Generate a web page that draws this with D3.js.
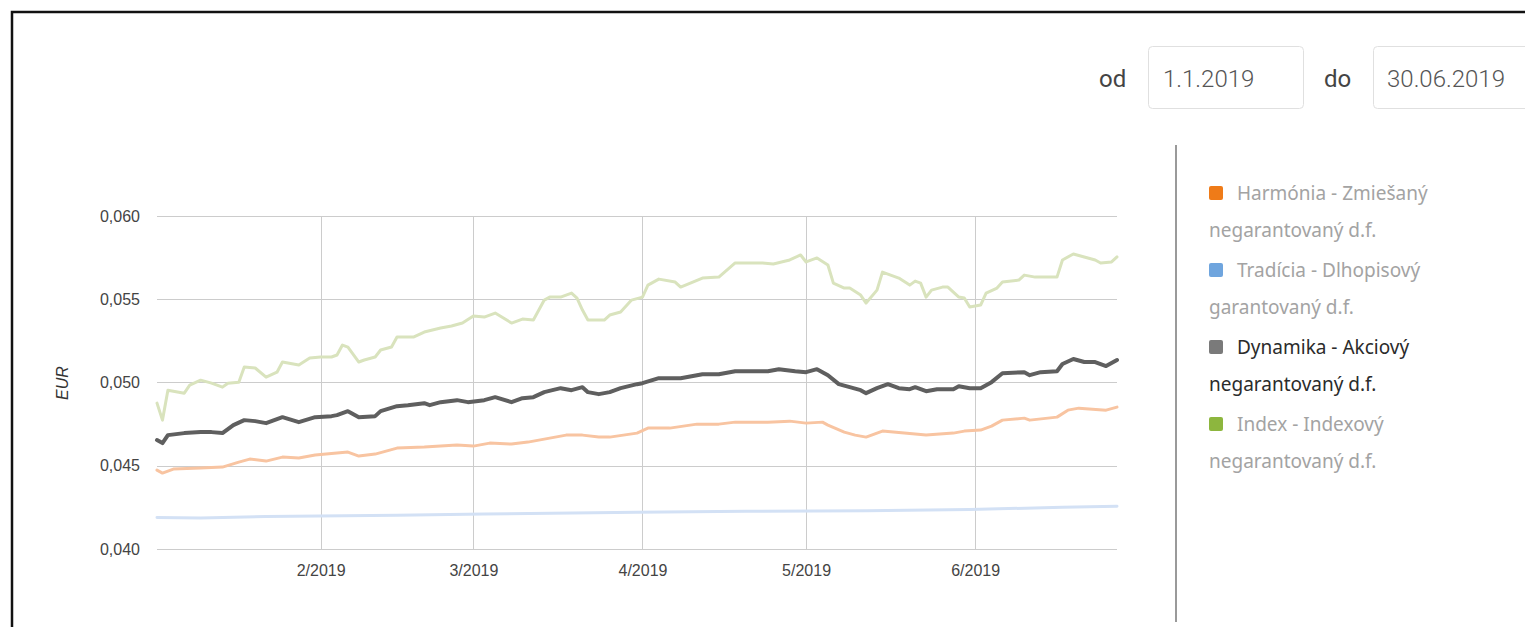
<!DOCTYPE html>
<html>
<head>
<meta charset="utf-8">
<script src="https://cdn.jsdelivr.net/npm/d3@7"></script>
<style>
  html, body { margin: 0; padding: 0; background: #fff; }
  svg { display: block; }
</style>
</head>
<body>
<svg width="1525" height="627"></svg>
<script>
// hodnoty podielov (EUR), odčítané z grafu
const harmonia = [
  ["2019-01-02",0.04474],["2019-01-03",0.04456],["2019-01-05",0.04480],["2019-01-10",0.04486],
  ["2019-01-14",0.04492],["2019-01-17",0.04522],["2019-01-19",0.04540],["2019-01-22",0.04528],
  ["2019-01-25",0.04552],["2019-01-28",0.04546],["2019-01-31",0.04564],["2019-02-04",0.04576],
  ["2019-02-06",0.04582],["2019-02-08",0.04558],["2019-02-11",0.04570],["2019-02-13",0.04588],
  ["2019-02-15",0.04606],["2019-02-20",0.04612],["2019-02-23",0.04618],["2019-02-26",0.04624],
  ["2019-03-01",0.04618],["2019-03-04",0.04636],["2019-03-08",0.04630],["2019-03-11",0.04642],
  ["2019-03-15",0.04666],["2019-03-18",0.04684],["2019-03-21",0.04684],["2019-03-24",0.04672],
  ["2019-03-26",0.04672],["2019-03-31",0.04696],["2019-04-02",0.04726],["2019-04-06",0.04726],
  ["2019-04-11",0.04750],["2019-04-15",0.04750],["2019-04-18",0.04762],["2019-04-24",0.04762],
  ["2019-04-28",0.04768],["2019-05-01",0.04756],["2019-05-04",0.04762],["2019-05-05",0.04744],
  ["2019-05-08",0.04702],["2019-05-10",0.04684],["2019-05-12",0.04672],["2019-05-14",0.04696],
  ["2019-05-15",0.04708],["2019-05-19",0.04696],["2019-05-23",0.04684],["2019-05-28",0.04696],
  ["2019-05-30",0.04708],["2019-06-02",0.04714],["2019-06-04",0.04738],["2019-06-06",0.04774],
  ["2019-06-10",0.04786],["2019-06-11",0.04774],["2019-06-16",0.04792],["2019-06-18",0.04834],
  ["2019-06-20",0.04846],["2019-06-25",0.04834],["2019-06-27",0.04852]
];

const tradicia = [
  ["2019-01-02",0.04189],["2019-01-10",0.04186],["2019-01-22",0.04195],["2019-02-15",0.04203],
  ["2019-03-03",0.04210],["2019-03-31",0.04221],["2019-04-20",0.04226],["2019-05-12",0.04229],
  ["2019-05-31",0.04237],["2019-06-17",0.04251],["2019-06-27",0.04257]
];

const dynamika = [
  ["2019-01-02",0.04654],["2019-01-03",0.04636],["2019-01-04",0.04684],["2019-01-07",0.04696],
  ["2019-01-10",0.04702],["2019-01-12",0.04702],["2019-01-14",0.04696],["2019-01-16",0.04744],
  ["2019-01-18",0.04774],["2019-01-20",0.04768],["2019-01-22",0.04756],["2019-01-25",0.04792],
  ["2019-01-28",0.04762],["2019-01-31",0.04792],["2019-02-03",0.04798],["2019-02-04",0.04804],
  ["2019-02-06",0.04828],["2019-02-08",0.04792],["2019-02-11",0.04798],["2019-02-12",0.04828],
  ["2019-02-15",0.04858],["2019-02-17",0.04864],["2019-02-20",0.04876],["2019-02-21",0.04864],
  ["2019-02-23",0.04882],["2019-02-26",0.04894],["2019-02-28",0.04882],["2019-03-03",0.04894],
  ["2019-03-05",0.04912],["2019-03-08",0.04882],["2019-03-10",0.04906],["2019-03-12",0.04912],
  ["2019-03-14",0.04942],["2019-03-17",0.04966],["2019-03-19",0.04954],["2019-03-21",0.04972],
  ["2019-03-22",0.04942],["2019-03-24",0.04930],["2019-03-26",0.04942],["2019-03-28",0.04966],
  ["2019-03-31",0.04990],["2019-04-01",0.04996],["2019-04-04",0.05026],["2019-04-08",0.05026],
  ["2019-04-12",0.05050],["2019-04-15",0.05050],["2019-04-18",0.05068],["2019-04-24",0.05068],
  ["2019-04-26",0.05080],["2019-04-29",0.05068],["2019-05-01",0.05062],["2019-05-03",0.05080],
  ["2019-05-05",0.05044],["2019-05-07",0.04990],["2019-05-09",0.04972],["2019-05-11",0.04954],
  ["2019-05-12",0.04936],["2019-05-14",0.04966],["2019-05-16",0.04990],["2019-05-18",0.04966],
  ["2019-05-20",0.04960],["2019-05-21",0.04972],["2019-05-23",0.04948],["2019-05-25",0.04960],
  ["2019-05-28",0.04960],["2019-05-29",0.04978],["2019-05-31",0.04966],["2019-06-02",0.04966],
  ["2019-06-04",0.05002],["2019-06-06",0.05056],["2019-06-10",0.05062],["2019-06-11",0.05044],
  ["2019-06-13",0.05062],["2019-06-16",0.05068],["2019-06-17",0.05111],["2019-06-19",0.05141],
  ["2019-06-21",0.05123],["2019-06-23",0.05123],["2019-06-25",0.05099],["2019-06-27",0.05135]
];

const index = [
  ["2019-01-02",0.04876],["2019-01-03",0.04774],["2019-01-04",0.04954],["2019-01-06",0.04942],
  ["2019-01-07",0.04936],["2019-01-08",0.04984],["2019-01-10",0.05014],["2019-01-12",0.04996],
  ["2019-01-14",0.04972],["2019-01-15",0.04996],["2019-01-17",0.05002],["2019-01-18",0.05093],
  ["2019-01-20",0.05087],["2019-01-22",0.05032],["2019-01-24",0.05062],["2019-01-25",0.05123],
  ["2019-01-28",0.05105],["2019-01-30",0.05147],["2019-02-01",0.05153],["2019-02-03",0.05153],
  ["2019-02-04",0.05165],["2019-02-05",0.05225],["2019-02-06",0.05213],["2019-02-08",0.05123],
  ["2019-02-09",0.05135],["2019-02-11",0.05153],["2019-02-12",0.05195],["2019-02-14",0.05213],
  ["2019-02-15",0.05273],["2019-02-18",0.05273],["2019-02-20",0.05303],["2019-02-23",0.05327],
  ["2019-02-25",0.05339],["2019-02-27",0.05357],["2019-03-01",0.05399],["2019-03-03",0.05393],
  ["2019-03-05",0.05417],["2019-03-08",0.05357],["2019-03-10",0.05381],["2019-03-12",0.05375],
  ["2019-03-14",0.05495],["2019-03-15",0.05513],["2019-03-17",0.05513],["2019-03-19",0.05537],
  ["2019-03-20",0.05507],["2019-03-21",0.05435],["2019-03-22",0.05375],["2019-03-25",0.05375],
  ["2019-03-26",0.05405],["2019-03-28",0.05423],["2019-03-30",0.05495],["2019-04-01",0.05513],
  ["2019-04-02",0.05585],["2019-04-04",0.05621],["2019-04-07",0.05603],["2019-04-08",0.05573],
  ["2019-04-12",0.05627],["2019-04-15",0.05633],["2019-04-18",0.05718],["2019-04-23",0.05718],
  ["2019-04-25",0.05712],["2019-04-28",0.05736],["2019-04-30",0.05766],["2019-05-01",0.05724],
  ["2019-05-03",0.05748],["2019-05-05",0.05706],["2019-05-06",0.05597],["2019-05-08",0.05567],
  ["2019-05-09",0.05567],["2019-05-11",0.05525],["2019-05-12",0.05477],["2019-05-14",0.05555],
  ["2019-05-15",0.05663],["2019-05-18",0.05627],["2019-05-20",0.05585],["2019-05-21",0.05609],
  ["2019-05-22",0.05597],["2019-05-23",0.05513],["2019-05-24",0.05555],["2019-05-26",0.05573],
  ["2019-05-27",0.05573],["2019-05-29",0.05513],["2019-05-30",0.05507],["2019-05-31",0.05453],
  ["2019-06-02",0.05465],["2019-06-03",0.05537],["2019-06-05",0.05567],["2019-06-06",0.05603],
  ["2019-06-09",0.05615],["2019-06-10",0.05645],["2019-06-12",0.05633],["2019-06-16",0.05633],
  ["2019-06-17",0.05736],["2019-06-19",0.05772],["2019-06-21",0.05754],["2019-06-23",0.05736],
  ["2019-06-24",0.05718],["2019-06-26",0.05724],["2019-06-27",0.05754]
];

const yTicks = [0.040, 0.045, 0.050, 0.055, 0.060];
const dateFrom = "1.1.2019";
const dateTo = "30.06.2019";

const legendItems = [
  { lines: ["Harmónia - Zmiešaný", "negarantovaný d.f."], key: "#ef7b18", active: false },
  { lines: ["Tradícia - Dlhopisový", "garantovaný d.f."], key: "#6fa5de", active: false },
  { lines: ["Dynamika - Akciový", "negarantovaný d.f."], key: "#7a7a7a", active: true },
  { lines: ["Index - Indexový", "negarantovaný d.f."], key: "#8db63e", active: false }
];

const series = [
  { data: harmonia, color: "#f8c4a1", width: 3 },
  { data: tradicia, color: "#d3e1f5", width: 3 },
  { data: index, color: "#d9e3bd", width: 3 },
  { data: dynamika, color: "#5f5f5f", width: 4 }
];

const parse = d3.timeParse("%Y-%m-%d");
const svg = d3.select("svg");
const axisFont = "Liberation Sans, Arial, sans-serif";

// rámik
svg.append("path")
  .attr("d", "M12,640 L12,12 L1540,12")
  .attr("fill", "none")
  .attr("stroke", "#111")
  .attr("stroke-width", 2.5);

const x = d3.scaleTime()
  .domain([parse("2019-01-02"), parse("2019-06-27")])
  .range([157, 1117]);

const y = d3.scaleLinear()
  .domain([0.040, 0.060])
  .range([549, 216]);

const sk = d3.formatLocale({ decimal: ",", thousands: " ", grouping: [3], currency: ["", " €"] });
const fmt = sk.format(".3f");

// mriežka
svg.append("g")
  .selectAll("line")
  .data(yTicks)
  .join("line")
  .attr("x1", 157).attr("x2", 1117)
  .attr("y1", d => Math.round(y(d)) + 0.5)
  .attr("y2", d => Math.round(y(d)) + 0.5)
  .attr("stroke", "#cccccc");

const months = x.ticks(d3.timeMonth.every(1)).filter(d => d > x.domain()[0]);
svg.append("g")
  .selectAll("line")
  .data(months)
  .join("line")
  .attr("x1", d => Math.round(x(d)) + 0.5)
  .attr("x2", d => Math.round(x(d)) + 0.5)
  .attr("y1", 216).attr("y2", 549)
  .attr("stroke", "#cccccc");

// osi
const yAxis = svg.append("g")
  .attr("transform", "translate(157,0)")
  .call(d3.axisLeft(y).tickValues(yTicks).tickFormat(fmt).tickSize(0).tickPadding(17));
yAxis.select(".domain").remove();
yAxis.selectAll("text")
  .attr("font-family", axisFont)
  .attr("font-size", 16)
  .attr("fill", "#444");

const xAxis = svg.append("g")
  .attr("transform", "translate(0,549)")
  .call(d3.axisBottom(x).tickValues(months).tickFormat(d3.timeFormat("%-m/%Y")).tickSize(0).tickPadding(16));
xAxis.select(".domain").remove();
xAxis.selectAll("text")
  .attr("font-family", axisFont)
  .attr("font-size", 16)
  .attr("fill", "#444");

svg.append("text")
  .attr("transform", "translate(68,383) rotate(-90)")
  .attr("text-anchor", "middle")
  .attr("font-family", axisFont)
  .attr("font-style", "italic")
  .attr("font-size", 16)
  .attr("fill", "#333")
  .text("EUR");

// čiary
const line = d3.line()
  .x(d => x(parse(d[0])))
  .y(d => y(d[1]));

svg.append("g")
  .selectAll("path")
  .data(series)
  .join("path")
  .attr("d", d => line(d.data))
  .attr("fill", "none")
  .attr("stroke", d => d.color)
  .attr("stroke-width", d => d.width)
  .attr("stroke-linejoin", "round")
  .attr("stroke-linecap", "round");

// legenda
svg.append("line")
  .attr("x1", 1176).attr("x2", 1176)
  .attr("y1", 145).attr("y2", 622)
  .attr("stroke", "#9a9a9a")
  .attr("stroke-width", 2);

const legend = svg.append("g")
  .selectAll("g")
  .data(legendItems)
  .join("g")
  .attr("transform", (d, i) => `translate(1209,${193 + i * 77})`);

legend.append("rect")
  .attr("x", 0).attr("y", -7)
  .attr("width", 14).attr("height", 14)
  .attr("rx", 2)
  .attr("fill", d => d.key);

legend.append("text")
  .attr("font-family", "Noto Sans, sans-serif")
  .attr("font-size", 19)
  .attr("fill", d => d.active ? "#2b2b2b" : "#a3a3a3")
  .selectAll("tspan")
  .data(d => d.lines.map((l, i) => ({ l, i })))
  .join("tspan")
  .attr("x", d => d.i === 0 ? 28 : 0)
  .attr("y", d => d.i * 37 + 7)
  .text(d => d.l);

// dátumový filter
const filt = svg.append("g")
  .attr("font-family", "Roboto, sans-serif")
  .attr("font-size", 24);

filt.append("text").attr("x", 1099).attr("y", 87).attr("fill", "#444").text("od");
filt.append("rect")
  .attr("x", 1148.5).attr("y", 46.5).attr("width", 155).attr("height", 62).attr("rx", 4)
  .attr("fill", "#fff").attr("stroke", "#e0e0e0");
filt.append("text").attr("x", 1163).attr("y", 87).attr("fill", "#555").attr("font-weight", 300).text(dateFrom);

filt.append("text").attr("x", 1324).attr("y", 87).attr("fill", "#444").text("do");
filt.append("rect")
  .attr("x", 1373.5).attr("y", 46.5).attr("width", 170).attr("height", 62).attr("rx", 4)
  .attr("fill", "#fff").attr("stroke", "#e0e0e0");
filt.append("text").attr("x", 1387).attr("y", 87).attr("fill", "#555").attr("font-weight", 300).text(dateTo);
</script>
</body>
</html>
